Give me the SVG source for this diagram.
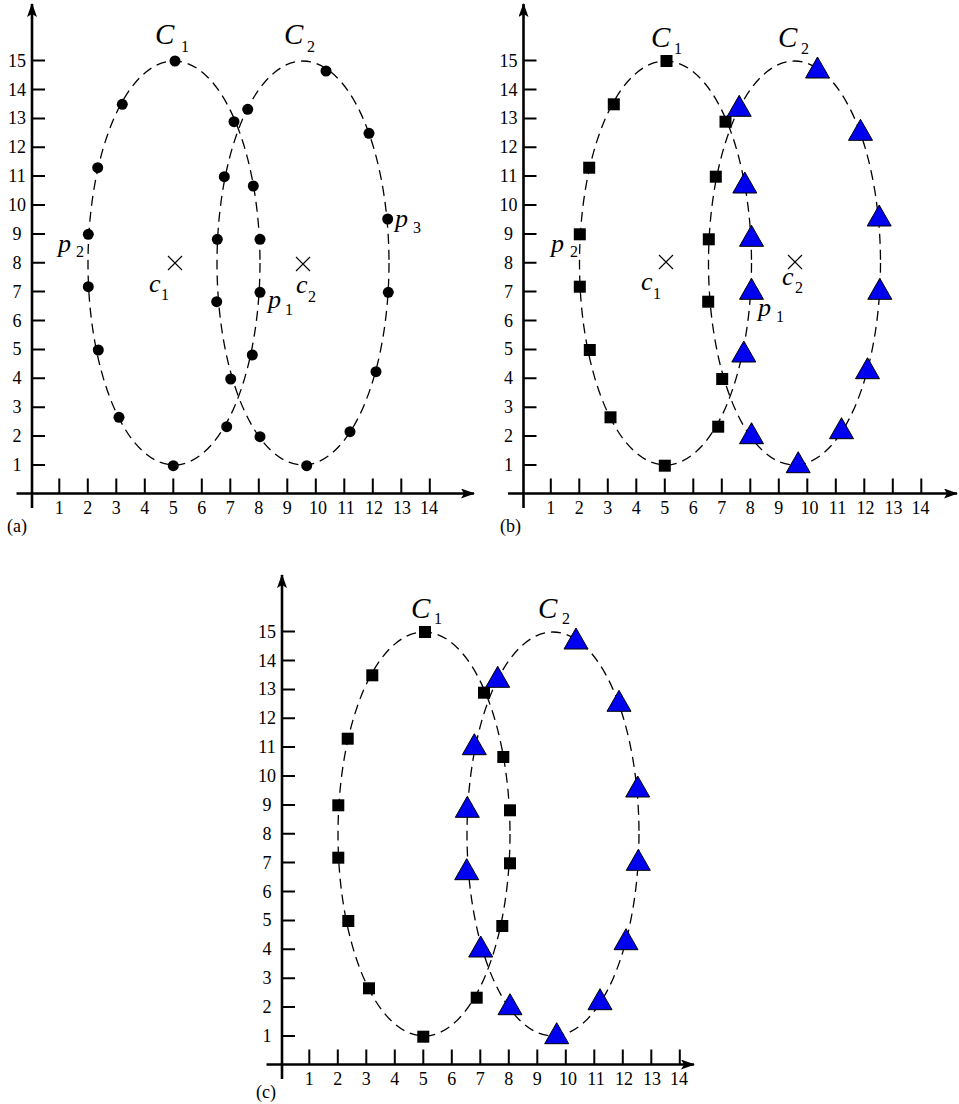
<svg xmlns="http://www.w3.org/2000/svg" xmlns:xlink="http://www.w3.org/1999/xlink" width="959" height="1104" viewBox="0 0 959 1104">
<style>
text{font-family:"Liberation Serif","Times New Roman",serif;fill:#000}
.num{font-size:18px}
.xl{text-anchor:middle}
.yl{text-anchor:middle}
.big{font-size:29px;font-style:italic}
.mid{font-size:26px;font-style:italic}
.sub{font-size:16px}
.pl{font-size:18px}
.axis{stroke:#000;stroke-width:2.6;fill:none}
.tick{stroke:#000;stroke-width:2;fill:none}
.ell{stroke:#000;stroke-width:1.3;fill:none;stroke-dasharray:10 6}
.cross{stroke:#000;stroke-width:1.1;fill:none}
.tri{fill:#0000f0;stroke:#000;stroke-width:1}
</style>
<defs>
<marker id="arr" viewBox="0 0 14 10" refX="13" refY="5" markerWidth="14" markerHeight="10" orient="auto" markerUnits="userSpaceOnUse"><path d="M0,0 L14,5 L0,10 L3,5 z" fill="#000"/></marker>
<circle id="dot" r="5.5" fill="#000"/>
<rect id="sq" x="-6" y="-6" width="12" height="12" fill="#000"/>
<path id="tr" class="tri" d="M0,-14 L12,7 L-12,7 Z"/>
<g id="ticks">
<path class="tick" d="M32,464.9h13M32,436h13M32,407.2h13M32,378.3h13M32,349.4h13M32,320.5h13M32,291.6h13M32,262.8h13M32,233.9h13M32,205h13M32,176.1h13M32,147.2h13M32,118.4h13M32,89.5h13M32,60.6h13"/>
<path class="tick" d="M59.3,493.5v-15M87.8,493.5v-15M116.3,493.5v-15M144.8,493.5v-15M173.3,493.5v-15M201.8,493.5v-15M230.3,493.5v-15M258.8,493.5v-15M287.3,493.5v-15M315.8,493.5v-15M344.3,493.5v-15M372.8,493.5v-15M401.3,493.5v-15M429.8,493.5v-15"/>
<g class="num yl">
<text x="17" y="470.9">1</text><text x="17" y="442">2</text><text x="17" y="413.2">3</text><text x="17" y="384.3">4</text><text x="17" y="355.4">5</text><text x="17" y="326.5">6</text><text x="17" y="297.6">7</text><text x="17" y="268.8">8</text><text x="17" y="239.9">9</text><text x="17" y="211">10</text><text x="17" y="182.1">11</text><text x="17" y="153.2">12</text><text x="17" y="124.4">13</text><text x="17" y="95.5">14</text><text x="17" y="66.6">15</text>
</g>
<g class="num xl">
<text x="59.3" y="514">1</text><text x="87.8" y="514">2</text><text x="116.3" y="514">3</text><text x="144.8" y="514">4</text><text x="173.3" y="514">5</text><text x="201.8" y="514">6</text><text x="230.3" y="514">7</text><text x="258.8" y="514">8</text><text x="287.3" y="514">9</text><text x="318" y="514">10</text><text x="346" y="514">11</text><text x="374" y="514">12</text><text x="402" y="514">13</text><text x="429" y="514">14</text>
</g>
</g>
<g id="ellipses">
<ellipse class="ell" cx="174" cy="263" rx="86" ry="202"/>
<ellipse class="ell" cx="303" cy="263" rx="86" ry="202"/>
</g>
</defs>

<!-- Panel (a) -->
<g id="panel-a">
<path class="axis" d="M32,508 V4" marker-end="url(#arr)"/>
<path class="axis" d="M16.5,493.5 H474" marker-end="url(#arr)"/>
<use href="#ticks" xlink:href="#ticks"/>
<use href="#ellipses" xlink:href="#ellipses"/>
<g id="a-points">
<use href="#dot" xlink:href="#dot" x="175" y="61"/>
<use href="#dot" xlink:href="#dot" x="122.3" y="104.3"/>
<use href="#dot" xlink:href="#dot" x="97.7" y="167.7"/>
<use href="#dot" xlink:href="#dot" x="88.3" y="234.3"/>
<use href="#dot" xlink:href="#dot" x="88.3" y="286.7"/>
<use href="#dot" xlink:href="#dot" x="98.3" y="350"/>
<use href="#dot" xlink:href="#dot" x="119" y="417.3"/>
<use href="#dot" xlink:href="#dot" x="173.3" y="465.7"/>
<use href="#dot" xlink:href="#dot" x="226.7" y="426.7"/>
<use href="#dot" xlink:href="#dot" x="230.7" y="379"/>
<use href="#dot" xlink:href="#dot" x="252.3" y="355"/>
<use href="#dot" xlink:href="#dot" x="260" y="292.3"/>
<use href="#dot" xlink:href="#dot" x="260" y="239.3"/>
<use href="#dot" xlink:href="#dot" x="253.3" y="186"/>
<use href="#dot" xlink:href="#dot" x="234" y="121.7"/>
<use href="#dot" xlink:href="#dot" x="247.7" y="109.3"/>
<use href="#dot" xlink:href="#dot" x="326" y="71"/>
<use href="#dot" xlink:href="#dot" x="369" y="133.3"/>
<use href="#dot" xlink:href="#dot" x="387.7" y="219"/>
<use href="#dot" xlink:href="#dot" x="388.3" y="292.3"/>
<use href="#dot" xlink:href="#dot" x="376" y="371.7"/>
<use href="#dot" xlink:href="#dot" x="350" y="431.7"/>
<use href="#dot" xlink:href="#dot" x="306.7" y="465.7"/>
<use href="#dot" xlink:href="#dot" x="260" y="436.7"/>
<use href="#dot" xlink:href="#dot" x="216.7" y="301.7"/>
<use href="#dot" xlink:href="#dot" x="217.3" y="239.3"/>
<use href="#dot" xlink:href="#dot" x="224.3" y="176.7"/>
</g>
<path class="cross" d="M168,256l14,14M182,256l-14,14M296,257l14,14M310,257l-14,14"/>
<text class="big" x="155" y="44">C</text><text class="sub" x="181" y="52">1</text>
<text class="big" x="284" y="44">C</text><text class="sub" x="307" y="52">2</text>
<text class="mid" x="58" y="252">p</text><text class="sub" x="76" y="257">2</text>
<text class="mid" x="149" y="292">c</text><text class="sub" x="161" y="300">1</text>
<text class="mid" x="296" y="293">c</text><text class="sub" x="308" y="302">2</text>
<text class="mid" x="268" y="308">p</text><text class="sub" x="285" y="315">1</text>
<text class="mid" x="395" y="227">p</text><text class="sub" x="413" y="233">3</text>
<text class="pl" x="7" y="532">(a)</text>
</g>

<!-- Panel (b) -->
<g id="panel-b">
<path class="axis" d="M523.5,508 V4" marker-end="url(#arr)"/>
<path class="axis" d="M508,493.5 H957" marker-end="url(#arr)"/>
<g transform="translate(491.5,0)">
<use href="#ticks" xlink:href="#ticks"/>
<use href="#ellipses" xlink:href="#ellipses"/>
<g id="b-squares">
<use href="#sq" xlink:href="#sq" x="175" y="61"/>
<use href="#sq" xlink:href="#sq" x="122.3" y="104.3"/>
<use href="#sq" xlink:href="#sq" x="97.7" y="167.7"/>
<use href="#sq" xlink:href="#sq" x="88.3" y="234.3"/>
<use href="#sq" xlink:href="#sq" x="88.3" y="286.7"/>
<use href="#sq" xlink:href="#sq" x="98.3" y="350"/>
<use href="#sq" xlink:href="#sq" x="119" y="417.3"/>
<use href="#sq" xlink:href="#sq" x="173.3" y="465.7"/>
<use href="#sq" xlink:href="#sq" x="226.7" y="426.7"/>
<use href="#sq" xlink:href="#sq" x="230.7" y="379"/>
<use href="#sq" xlink:href="#sq" x="234" y="121.7"/>
<use href="#sq" xlink:href="#sq" x="216.7" y="301.7"/>
<use href="#sq" xlink:href="#sq" x="217.3" y="239.3"/>
<use href="#sq" xlink:href="#sq" x="224.3" y="176.7"/>
</g>
<g id="b-triangles">
<use href="#tr" xlink:href="#tr" x="252.3" y="355"/>
<use href="#tr" xlink:href="#tr" x="260" y="292.3"/>
<use href="#tr" xlink:href="#tr" x="260" y="239.3"/>
<use href="#tr" xlink:href="#tr" x="253.3" y="186"/>
<use href="#tr" xlink:href="#tr" x="247.7" y="109.3"/>
<use href="#tr" xlink:href="#tr" x="326" y="71"/>
<use href="#tr" xlink:href="#tr" x="369" y="133.3"/>
<use href="#tr" xlink:href="#tr" x="387.7" y="219"/>
<use href="#tr" xlink:href="#tr" x="388.3" y="292.3"/>
<use href="#tr" xlink:href="#tr" x="376" y="371.7"/>
<use href="#tr" xlink:href="#tr" x="350" y="431.7"/>
<use href="#tr" xlink:href="#tr" x="306.7" y="465.7"/>
<use href="#tr" xlink:href="#tr" x="260" y="436.7"/>
</g>
</g>
<path class="cross" d="M659,255l14,14M673,255l-14,14M788,255l14,14M802,255l-14,14"/>
<text class="big" x="651" y="47">C</text><text class="sub" x="674" y="54">1</text>
<text class="big" x="778" y="47">C</text><text class="sub" x="801" y="54">2</text>
<text class="mid" x="551" y="252">p</text><text class="sub" x="570" y="257">2</text>
<text class="mid" x="641" y="290">c</text><text class="sub" x="653" y="299">1</text>
<text class="mid" x="782" y="285">c</text><text class="sub" x="795" y="293">2</text>
<text class="mid" x="758" y="316">p</text><text class="sub" x="776" y="322">1</text>
<text class="pl" x="500" y="532">(b)</text>
</g>

<!-- Panel (c) -->
<g id="panel-c">
<path class="axis" d="M282,1079 V575" marker-end="url(#arr)"/>
<path class="axis" d="M266.5,1064.5 H694" marker-end="url(#arr)"/>
<g transform="translate(250,571)">
<use href="#ticks" xlink:href="#ticks"/>
<use href="#ellipses" xlink:href="#ellipses"/>
<g id="c-squares">
<use href="#sq" xlink:href="#sq" x="175" y="61"/>
<use href="#sq" xlink:href="#sq" x="122.3" y="104.3"/>
<use href="#sq" xlink:href="#sq" x="97.7" y="167.7"/>
<use href="#sq" xlink:href="#sq" x="88.3" y="234.3"/>
<use href="#sq" xlink:href="#sq" x="88.3" y="286.7"/>
<use href="#sq" xlink:href="#sq" x="98.3" y="350"/>
<use href="#sq" xlink:href="#sq" x="119" y="417.3"/>
<use href="#sq" xlink:href="#sq" x="173.3" y="465.7"/>
<use href="#sq" xlink:href="#sq" x="226.7" y="426.7"/>
<use href="#sq" xlink:href="#sq" x="252.3" y="355"/>
<use href="#sq" xlink:href="#sq" x="260" y="292.3"/>
<use href="#sq" xlink:href="#sq" x="260" y="239.3"/>
<use href="#sq" xlink:href="#sq" x="253.3" y="186"/>
<use href="#sq" xlink:href="#sq" x="234" y="121.7"/>
</g>
<g id="c-triangles">
<use href="#tr" xlink:href="#tr" x="230.7" y="379"/>
<use href="#tr" xlink:href="#tr" x="216.7" y="301.7"/>
<use href="#tr" xlink:href="#tr" x="217.3" y="239.3"/>
<use href="#tr" xlink:href="#tr" x="224.3" y="176.7"/>
<use href="#tr" xlink:href="#tr" x="247.7" y="109.3"/>
<use href="#tr" xlink:href="#tr" x="326" y="71"/>
<use href="#tr" xlink:href="#tr" x="369" y="133.3"/>
<use href="#tr" xlink:href="#tr" x="387.7" y="219"/>
<use href="#tr" xlink:href="#tr" x="388.3" y="292.3"/>
<use href="#tr" xlink:href="#tr" x="376" y="371.7"/>
<use href="#tr" xlink:href="#tr" x="350" y="431.7"/>
<use href="#tr" xlink:href="#tr" x="306.7" y="465.7"/>
<use href="#tr" xlink:href="#tr" x="260" y="436.7"/>
</g>
</g>
<text class="big" x="411" y="618">C</text><text class="sub" x="434" y="624">1</text>
<text class="big" x="538" y="618">C</text><text class="sub" x="562" y="624">2</text>
<text class="pl" x="256" y="1098">(c)</text>
</g>
</svg>
